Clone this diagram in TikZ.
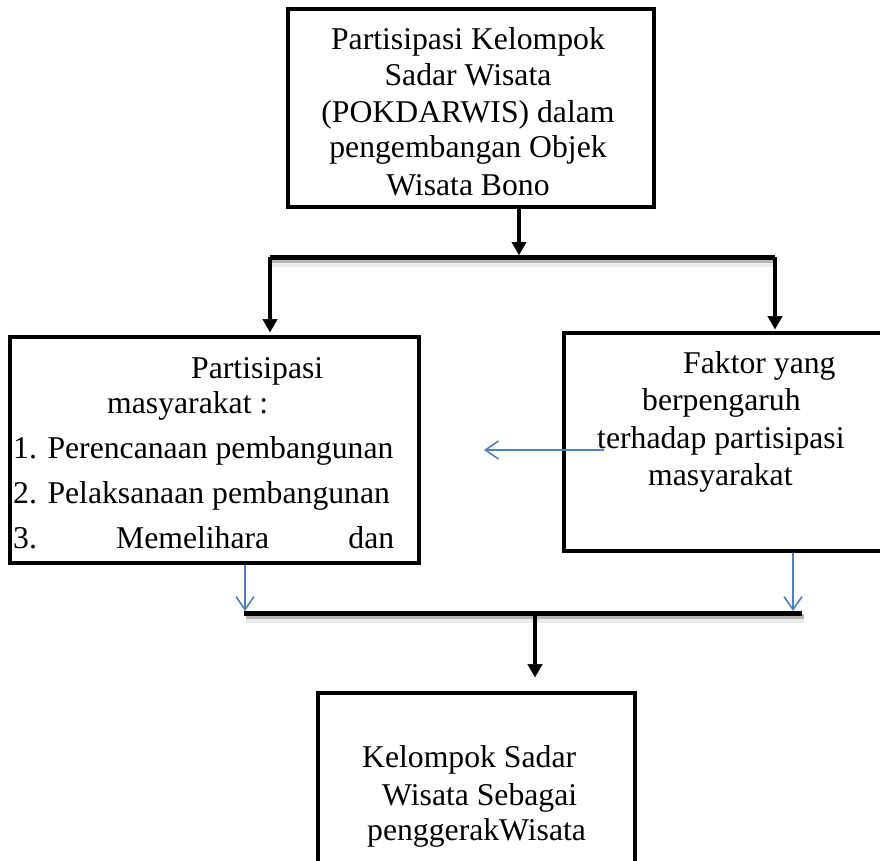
\documentclass[tikz,border=0pt]{standalone}
\usepackage{fontspec}
\setmainfont{Liberation Serif}
\usetikzlibrary{arrows.meta}
\definecolor{linkblue}{HTML}{4F81BD}
\begin{document}
\begin{tikzpicture}[x=1pt,y=-1pt,
  box/.style={draw, line width=3.6pt, rectangle, inner sep=0pt},
  txt/.style={anchor=base west, inner sep=0pt, font=\fontsize{31.7}{38}\selectfont},
  ctxt/.style={anchor=base, inner sep=0pt, font=\fontsize{31.7}{38}\selectfont},
  blackarrow/.style={line width=4pt, -{Triangle[width=15pt,length=13pt,line width=0.4pt]}},
  bluearrow/.style={draw=linkblue, line width=1.6pt, -{Straight Barb[width=18pt,length=13pt]}},
  bar/.style={line width=5pt},
  barshadowA/.style={line width=5pt, black, opacity=0.22},
  barshadowB/.style={line width=9pt, black, opacity=0.08}
]
\useasboundingbox (0,0) rectangle (880,861);
\clip (0,0) rectangle (880,861);

% boxes
\node[box, minimum width=366pt, minimum height=198pt] (top) at (471,108) {};
\node[box, minimum width=409pt, minimum height=226pt] (left) at (214.5,450) {};
\node[box, minimum width=341pt, minimum height=218pt] (right) at (734.5,442) {};
\node[box, minimum width=317pt, minimum height=220pt] (bottom) at (476.5,803) {};

% junction coordinates
\coordinate (b1L) at (270,257);
\coordinate (b1M) at (519,257);
\coordinate (b1R) at (775,257);
\coordinate (b2L) at (244,613);
\coordinate (b2M) at (535,613);
\coordinate (b2R) at (802,613);
\coordinate (fromR) at (604,450);
\coordinate (toL) at (484,450);
\coordinate (dl) at (245,611);
\coordinate (dr) at (793,611);

% bars with soft shadow
\draw[barshadowB] ([shift={(2,5)}]b1L) -- ([shift={(2,5)}]b1R);
\draw[barshadowA] ([shift={(2,3)}]b1L) -- ([shift={(2,3)}]b1R);
\draw[bar] (b1L) -- (b1R);
\draw[barshadowB] ([shift={(2,5)}]b2L) -- ([shift={(2,5)}]b2R);
\draw[barshadowA] ([shift={(2,3)}]b2L) -- ([shift={(2,3)}]b2R);
\draw[bar] (b2L) -- (b2R);

% black connectors
\draw[blackarrow, shorten >=2pt] (top.south -| b1M) -- (b1M);
\draw[blackarrow, shorten >=3pt] (b1L) -- (b1L |- left.north);
\draw[blackarrow, shorten >=2pt] (b1R) -- (b1R |- right.north);
\draw[blackarrow, shorten >=14pt] (b2M) -- (b2M |- bottom.north);

% blue connectors
\draw[bluearrow] (fromR) -- (toL);
\draw[bluearrow] (dl |- left.south) -- (dl);
\draw[bluearrow] (dr |- right.south) -- (dr);

% top box text
\node[ctxt] (t1) at (468,50) {Partisipasi Kelompok};
\node[ctxt] (t2) at (468,86) {Sadar Wisata};
\node[ctxt] (t3) at (468,123) {(POKDARWIS) dalam};
\node[ctxt] (t4) at (468,158) {pengembangan Objek};
\node[ctxt] (t5) at (468,195) {Wisata Bono};

% left box text
\node[txt] (l1) at (191,378) {Partisipasi};
\node[txt] (l2) at (107,413) {masyarakat :};
\node[txt] (l3) at (13,458) {1. Perencanaan pembangunan};
\node[txt] (l4) at (13,503) {2. Pelaksanaan pembangunan};
\node[txt] (l5) at (13,548) {\makebox[381pt][s]{3.\hfill Memelihara\hfill dan}};

% right box text
\node[txt] (r1) at (683,373) {Faktor yang};
\node[txt] (r2) at (642,410) {berpengaruh};
\node[txt] (r3) at (597,448) {terhadap partisipasi};
\node[txt] (r4) at (648,485) {masyarakat};

% bottom box text
\node[txt] (k1) at (362,767) {Kelompok Sadar};
\node[txt] (k2) at (382,805) {Wisata Sebagai};
\node[txt] (k3) at (367,840) {penggerakWisata};
\end{tikzpicture}
\end{document}
